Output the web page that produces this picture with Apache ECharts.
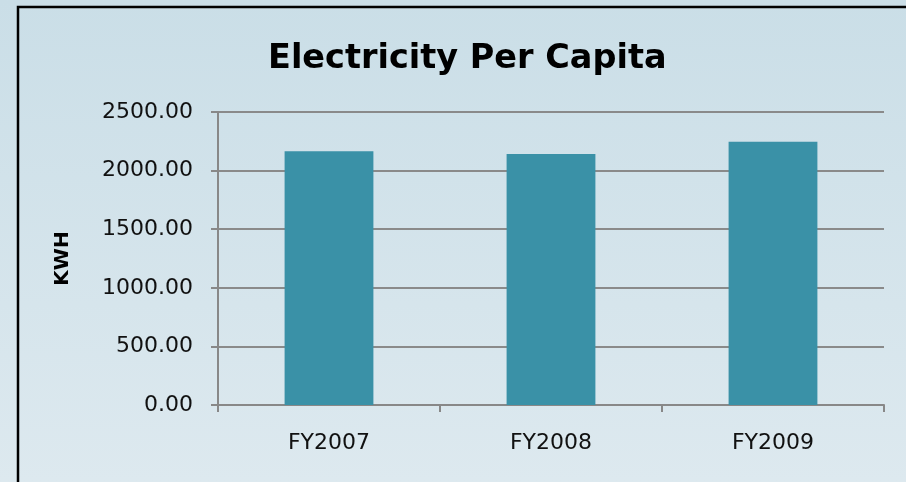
<!DOCTYPE html>
<html>
<head>
<meta charset="utf-8">
<script src="https://cdn.jsdelivr.net/npm/echarts@6/dist/echarts.min.js"></script>
<style>
html,body{margin:0;padding:0;}
#chart{width:906px;height:482px;}
</style>
</head>
<body>
<div id="chart"></div>
<script>
const titleText = "Electricity Per Capita";
const categories = ["FY2007", "FY2008", "FY2009"];
const kwhValues = [2166, 2141, 2246];
const yAxisName = "KWH";

const chart = echarts.init(document.getElementById('chart'));
chart.setOption({
  animation: false,
  backgroundColor: {
    type: 'linear', x: 0, y: 0, x2: 0, y2: 1,
    colorStops: [{offset: 0, color: '#CADEE7'}, {offset: 1, color: '#DDE9EF'}]
  },
  title: {
    text: titleText,
    left: 263,
    top: 37,
    textStyle: {fontFamily: 'DejaVu Sans', fontWeight: 'bold', fontSize: 33.5, color: '#000'}
  },
  grid: {left: 218, right: 22, top: 112, bottom: 77, containLabel: false},
  xAxis: {
    type: 'category',
    data: categories,
    axisLine: {lineStyle: {color: '#888888', width: 2}},
    axisTick: {show: true, length: 7, lineStyle: {color: '#888888', width: 2}},
    axisLabel: {fontFamily: 'DejaVu Sans', fontSize: 22, color: '#111', margin: 27}
  },
  yAxis: {
    type: 'value',
    min: 0, max: 2500, interval: 500,
    name: yAxisName,
    nameLocation: 'middle',
    nameRotate: 90,
    nameGap: 145,
    nameTextStyle: {fontFamily: 'DejaVu Sans', fontWeight: 'bold', fontSize: 20, color: '#000'},
    axisLine: {show: true, lineStyle: {color: '#888888', width: 2}},
    axisTick: {show: true, length: 7, lineStyle: {color: '#888888', width: 2}},
    splitLine: {lineStyle: {color: '#8a8a8a', width: 2}},
    axisLabel: {fontFamily: 'DejaVu Sans', fontSize: 22, color: '#111', margin: 25,
      formatter: v => v.toFixed(2)}
  },
  series: [{
    type: 'bar',
    data: kwhValues,
    barWidth: '40%',
    itemStyle: {color: '#3A91A7'}
  }],
  graphic: [{
    type: 'rect',
    shape: {x: 18, y: 7, width: 960, height: 560},
    style: {fill: null, stroke: '#000', lineWidth: 2.5},
    z: 100
  }]
});
</script>
</body>
</html>
